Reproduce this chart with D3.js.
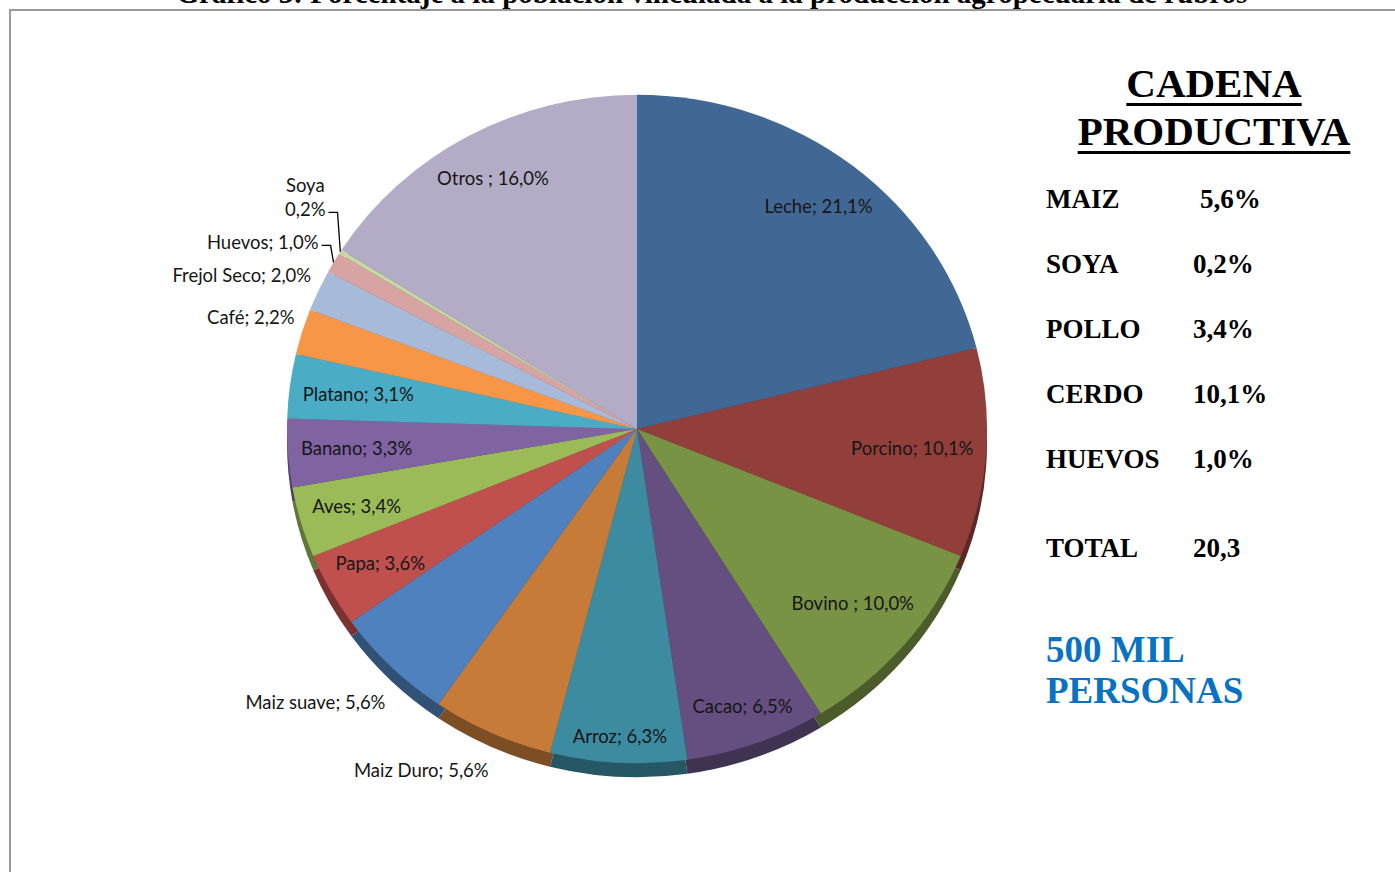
<!DOCTYPE html>
<html>
<head>
<meta charset="utf-8">
<script src="https://cdn.jsdelivr.net/npm/d3@7"></script>
<style>
  body { margin: 0; background: #fff; }
  svg { display: block; }
</style>
</head>
<body>
<svg id="chart" width="1395" height="872"></svg>
<script>
// data
const title = "Gráfico 3: Porcentaje a la población vinculada a la producción agropecuaria de rubros";
const categories = ["Leche", "Porcino", "Bovino ", "Cacao", "Arroz", "Maiz Duro", "Maiz suave", "Papa",
                    "Aves", "Banano", "Platano", "Café", "Frejol Seco", "Huevos", "Soya", "Otros "];
const values = [21.1, 10.1, 10.0, 6.5, 6.3, 5.6, 5.6, 3.6, 3.4, 3.3, 3.1, 2.2, 2.0, 1.0, 0.2, 16.0];
const colors = ["#416894", "#923f3c", "#789343", "#654f80", "#3d8ba0", "#c67b38", "#4e81bd", "#c0504d",
                "#9bbb59", "#8064a2", "#4bacc6", "#f79646", "#a8bad9", "#d8a4a3", "#c5d9a0", "#b4acc6"];
const wrapped = ["Soya"];   // labels that Excel broke on two lines

const cadenaItems = ["MAIZ", "SOYA", "POLLO", "CERDO", "HUEVOS"];
const cadenaValues = [5.6, 0.2, 3.4, 10.1, 1.0];

const svg = d3.select("#chart");
const fmt = v => d3.format(".1f")(v).replace(".", ",");

// frame + title (cut by the top of the page, as in the scan)
svg.append("rect")
    .attr("x", 10).attr("y", 10).attr("width", 1400).attr("height", 900)
    .attr("fill", "none").attr("stroke", "#9a9a9a").attr("stroke-width", 2);

svg.append("text")
    .attr("x", 712).attr("y", 3)
    .attr("text-anchor", "middle")
    .style("font", "bold 29px 'Liberation Serif'")
    .text(title);

// pie
const cx = 637, cy = 429, R = 350, k = 0.955, depth = 14;
const pie = d3.pie().sort(null).value(d => d.value);
const slices = pie(categories.map((c, i) => ({ name: c, value: values[i], color: colors[i] })));
const arc = d3.arc().innerRadius(0).outerRadius(R);

//side of the 3d pie: a darker copy pushed down
svg.append("g")
    .attr("transform", `translate(${cx},${cy + depth}) scale(1,${k})`)
    .selectAll("path").data(slices).join("path")
    .attr("d", arc)
    .attr("fill", d => d3.color(d.data.color).darker(1.3));

svg.append("g")
    .attr("transform", `translate(${cx},${cy}) scale(1,${k})`)
    .selectAll("path").data(slices).join("path")
    .attr("d", arc)
    .attr("fill", d => d.data.color);

// labels
const fs = 18.5, lh = 24;
const labelFont = `${fs}px Lato`;
const measure = svg.append("text").style("font", labelFont).attr("visibility", "hidden");
const textW = s => { measure.text(s); return measure.node().getComputedTextLength(); };

const toScreen = (t, a) => [t * Math.sin(a), -t * Math.cos(a) * k];
const inEllipse = (x, y, r) => x * x + (y / k) * (y / k) <= r * r;
const angOf = (x, y) => { let a = Math.atan2(x, -y / k); if (a < 0) a += 2 * Math.PI; return a; };
const tol = 0.3 * Math.PI / 180;
const boxCorners = (c, w, h) => [[-1, -1], [1, -1], [-1, 1], [1, 1]]
    .map(([sx, sy]) => [c[0] + sx * w / 2, c[1] + sy * h / 2]);

const labels = slices.map(d => {
    const lines = wrapped.includes(d.data.name)
        ? [d.data.name, fmt(d.data.value) + "%"]
        : [d.data.name + "; " + fmt(d.data.value) + "%"];
    const w = d3.max(lines, textW), h = lines.length * 18;
    const mid = (d.startAngle + d.endAngle) / 2;
    // best fit inside: as far out as the box stays in the pie
    let t = R - 12, c;
    for (; t > R * 0.4; t--) {
        c = toScreen(t, mid);
        if (boxCorners(c, w, h).every(p => inEllipse(p[0], p[1], R - 12))) break;
    }
    const inside = boxCorners(c, w, h).every(p => {
        const a = angOf(p[0], p[1]);
        return a >= d.startAngle - tol && a <= d.endAngle + tol;
    });
    return { d, lines, w, h: lines.length * lh, mid, inside, cx: c[0], cy: c[1] };
});

// outside labels: box corner touches a point just beyond the rim
labels.filter(l => !l.inside).forEach(l => {
    const lower = Math.cos(l.mid) < 0;
    const p = toScreen(R + 8, l.mid);
    const left = Math.sin(l.mid) < 0;
    l.leader = (l.d.endAngle - l.d.startAngle) < 6 * Math.PI / 180;
    const gap = l.leader ? 8 : 0;
    l.cx = left ? p[0] - gap - l.w / 2 : p[0] + gap + l.w / 2;
    l.cy = lower ? p[1] + depth + 4 + l.h / 2 : p[1] - l.h / 2;
    l.left = left; l.lower = lower;
});

// push overlapping outside labels apart (upper left go up, lower left go down)
const upperLeft = labels.filter(l => !l.inside && l.left && !l.lower).sort((a, b) => a.mid - b.mid);
for (let i = 1; i < upperLeft.length; i++) {
    const prev = upperLeft[i - 1], cur = upperLeft[i];
    const limit = prev.cy - prev.h / 2 - 9;
    if (cur.cy + cur.h / 2 > limit) cur.cy = limit - cur.h / 2;
}
const lowerLeft = labels.filter(l => !l.inside && l.left && l.lower).sort((a, b) => b.mid - a.mid);
for (let i = 1; i < lowerLeft.length; i++) {
    const prev = lowerLeft[i - 1], cur = lowerLeft[i];
    const limit = prev.cy + prev.h / 2 + 9;
    if (cur.cy - cur.h / 2 < limit) cur.cy = limit + cur.h / 2;
}

const gLabels = svg.append("g").attr("transform", `translate(${cx},${cy})`);

// leader lines
labels.filter(l => l.leader).forEach(l => {
    const edge = toScreen(R, l.mid);
    const sx = l.left ? l.cx + l.w / 2 + 3 : l.cx - l.w / 2 - 3;
    const sy = l.cy + l.h / 2 - lh / 2 + 3;
    const bx = l.left ? sx + 9 : sx - 9;
    gLabels.append("path")
        .attr("d", d3.line()([[sx, sy], [bx, sy], edge]))
        .attr("fill", "none").attr("stroke", "#000").attr("stroke-width", 1.3);
});

labels.forEach(l => {
    const txt = gLabels.append("text")
        .attr("text-anchor", "middle")
        .style("font", labelFont)
        .attr("fill", "#161616");
    l.lines.forEach((s, i) => {
        txt.append("tspan")
            .attr("x", l.cx)
            .attr("y", l.cy - l.h / 2 + i * lh + lh / 2)
            .attr("dy", "0.35em")
            .text(s);
    });
});

// right panel
const serif = "'Liberation Serif', 'Times New Roman', serif";
[["CADENA", 97, 103], ["PRODUCTIVA", 145, 151]].forEach(([s, y, uy]) => {
    const t = svg.append("text")
        .attr("x", 1214).attr("y", y)
        .attr("text-anchor", "middle")
        .style("font", `bold 41px ${serif}`)
        .text(s);
    const w = t.node().getComputedTextLength();
    svg.append("rect")
        .attr("x", 1214 - w / 2).attr("y", uy)
        .attr("width", w).attr("height", 3)
        .attr("fill", "#000");
});

const rowY = d3.scaleLinear().domain([0, 4]).range([208, 468]);
cadenaItems.forEach((s, i) => {
    svg.append("text").attr("x", 1046).attr("y", rowY(i))
        .style("font", `bold 27px ${serif}`).text(s);
    svg.append("text").attr("x", i === 0 ? 1200 : 1193).attr("y", rowY(i))
        .style("font", `bold 27px ${serif}`).text(fmt(cadenaValues[i]) + "%");
});
svg.append("text").attr("x", 1046).attr("y", 557)
    .style("font", `bold 27px ${serif}`).text("TOTAL");
svg.append("text").attr("x", 1193).attr("y", 557)
    .style("font", `bold 27px ${serif}`).text(fmt(d3.sum(cadenaValues)));

[["500 MIL", 662], ["PERSONAS", 703]].forEach(([s, y]) => {
    svg.append("text").attr("x", 1046).attr("y", y)
        .attr("fill", "#0a72c2")
        .style("font", `bold 37px ${serif}`).text(s);
});
</script>
</body>
</html>
